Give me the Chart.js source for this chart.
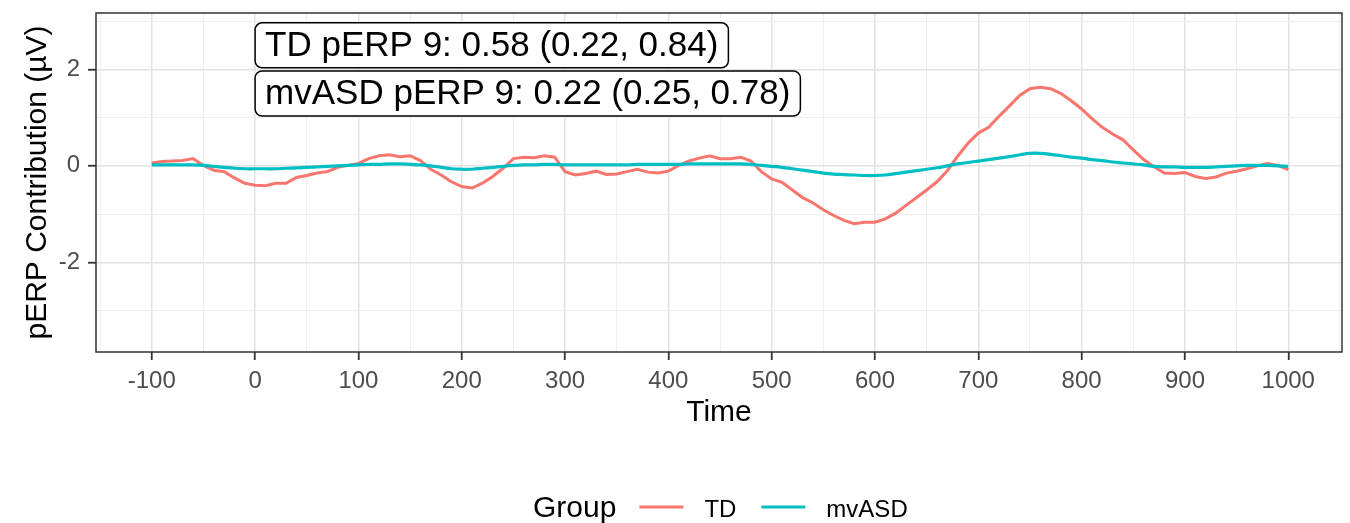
<!DOCTYPE html>
<html>
<head>
<meta charset="utf-8">
<script src="https://cdn.jsdelivr.net/npm/chart.js@4"></script>
<style>
  html, body { margin: 0; padding: 0; background: #ffffff; }
  #wrap { width: 1350px; height: 523px; }
</style>
</head>
<body>
<div id="wrap"><canvas id="c" width="1350" height="523"></canvas></div>
<script>
// ---- data ----
const times = [-100,-90,-80,-70,-60,-50,-40,-30,-20,-10,0,10,20,30,40,50,60,70,80,90,100,110,120,130,140,150,160,170,180,190,200,210,220,230,240,250,260,270,280,290,300,310,320,330,340,350,360,370,380,390,400,410,420,430,440,450,460,470,480,490,500,510,520,530,540,550,560,570,580,590,600,610,620,630,640,650,660,670,680,690,700,710,720,730,740,750,760,770,780,790,800,810,820,830,840,850,860,870,880,890,900,910,920,930,940,950,960,970,980,990,1000];
const tdValues = [0.06,0.09,0.10,0.11,0.15,0.01,-0.09,-0.12,-0.25,-0.36,-0.40,-0.41,-0.36,-0.36,-0.24,-0.20,-0.15,-0.12,-0.03,0.01,0.05,0.15,0.21,0.23,0.19,0.21,0.11,-0.07,-0.19,-0.33,-0.43,-0.46,-0.36,-0.22,-0.05,0.15,0.18,0.17,0.21,0.18,-0.12,-0.19,-0.16,-0.11,-0.18,-0.17,-0.12,-0.07,-0.13,-0.15,-0.11,0.01,0.10,0.16,0.21,0.15,0.15,0.18,0.10,-0.12,-0.27,-0.34,-0.50,-0.66,-0.77,-0.91,-1.03,-1.13,-1.20,-1.17,-1.17,-1.10,-0.98,-0.82,-0.66,-0.50,-0.33,-0.10,0.20,0.47,0.68,0.80,1.03,1.24,1.46,1.60,1.63,1.60,1.50,1.35,1.18,0.98,0.80,0.66,0.54,0.33,0.13,-0.02,-0.15,-0.16,-0.14,-0.22,-0.26,-0.23,-0.15,-0.11,-0.06,0.00,0.05,0.01,-0.08];
const mvasdValues = [0.02,0.02,0.02,0.02,0.02,0.01,-0.01,-0.03,-0.05,-0.06,-0.06,-0.06,-0.06,-0.05,-0.04,-0.03,-0.02,-0.01,0.00,0.01,0.02,0.03,0.03,0.04,0.04,0.03,0.02,0.00,-0.03,-0.06,-0.07,-0.07,-0.05,-0.03,-0.01,0.01,0.02,0.02,0.03,0.03,0.02,0.02,0.02,0.02,0.02,0.02,0.02,0.03,0.03,0.03,0.03,0.03,0.04,0.04,0.04,0.04,0.04,0.04,0.03,0.01,-0.01,-0.03,-0.06,-0.09,-0.12,-0.15,-0.17,-0.18,-0.19,-0.20,-0.20,-0.19,-0.16,-0.13,-0.10,-0.07,-0.04,0.00,0.04,0.07,0.10,0.13,0.16,0.19,0.23,0.26,0.26,0.24,0.21,0.18,0.16,0.13,0.11,0.08,0.06,0.04,0.02,-0.01,-0.02,-0.02,-0.03,-0.03,-0.03,-0.02,-0.01,0.00,0.01,0.01,0.01,0.00,-0.01];
const xTickValues = [-150,-100,-50,0,50,100,150,200,250,300,350,400,450,500,550,600,650,700,750,800,850,900,950,1000,1050];
const xTickLabels = ['', '-100', '', '0', '', '100', '', '200', '', '300', '', '400', '', '500', '', '600', '', '700', '', '800', '', '900', '', '1000', ''];
const yTickValues = [-3,-2,-1,0,1,2,3];
const yTickLabels = ['', '-2', '', '0', '', '2', ''];
const seriesNames = ['TD', 'mvASD'];
const seriesColors = ['#F8766D', '#00BFC4'];
const annotationTexts = ['TD pERP 9: 0.58 (0.22, 0.84)', 'mvASD pERP 9: 0.22 (0.25, 0.78)'];
const annotationX = [0, 0];
const annotationY = [2.5, 1.5];
const legendTitle = 'Group';

const FONT = '"Liberation Sans", Arial, Helvetica, sans-serif';

const bgPlugin = {
  id: 'bg',
  beforeDraw(chart) {
    const c = chart.ctx;
    c.save(); c.fillStyle = '#ffffff'; c.fillRect(0, 0, chart.width, chart.height); c.restore();
  },
  afterDraw(chart) {
    const c = chart.ctx;
    const a = chart.chartArea;
    const xs = chart.scales.x, ys = chart.scales.y;
    c.save();
    // panel border
    c.strokeStyle = '#333333';
    c.lineWidth = 1.5;
    c.strokeRect(a.left, a.top, a.right - a.left, a.bottom - a.top);
    // annotation labels
    c.font = '35px ' + FONT;
    c.textBaseline = 'middle';
    c.textAlign = 'left';
    for (let i = 0; i < annotationTexts.length; i++) {
      const px = xs.getPixelForValue(annotationX[i]);
      const py = ys.getPixelForValue(annotationY[i]);
      const w = c.measureText(annotationTexts[i]).width + 20;
      const h = 45;
      const x0 = px, y0 = py - h / 2, r = 7;
      c.beginPath();
      c.moveTo(x0 + r, y0);
      c.lineTo(x0 + w - r, y0);
      c.arcTo(x0 + w, y0, x0 + w, y0 + r, r);
      c.lineTo(x0 + w, y0 + h - r);
      c.arcTo(x0 + w, y0 + h, x0 + w - r, y0 + h, r);
      c.lineTo(x0 + r, y0 + h);
      c.arcTo(x0, y0 + h, x0, y0 + h - r, r);
      c.lineTo(x0, y0 + r);
      c.arcTo(x0, y0, x0 + r, y0, r);
      c.closePath();
      c.fillStyle = '#ffffff';
      c.fill();
      c.strokeStyle = '#000000';
      c.lineWidth = 1.5;
      c.stroke();
      c.fillStyle = '#000000';
      c.fillText(annotationTexts[i], x0 + 10, py + 1);
    }
    // legend
    c.textBaseline = 'alphabetic';
    c.fillStyle = '#000000';
    c.font = '30px ' + FONT;
    let lx = 533;
    const ly = 517;
    c.fillText(legendTitle, lx, ly);
    lx += c.measureText(legendTitle).width + 23;
    c.font = '24px ' + FONT;
    for (let i = 0; i < seriesNames.length; i++) {
      c.strokeStyle = seriesColors[i];
      c.lineWidth = 2.8;
      c.beginPath();
      c.moveTo(lx, 507);
      c.lineTo(lx + 44, 507);
      c.stroke();
      lx += 65;
      c.fillStyle = '#000000';
      c.fillText(seriesNames[i], lx, ly);
      lx += c.measureText(seriesNames[i]).width + 25;
    }
    c.restore();
  }
};

const chart = new Chart(document.getElementById('c'), {
  type: 'line',
  data: {
    datasets: [
      {
        label: seriesNames[0],
        data: times.map((t, i) => ({ x: t, y: tdValues[i] })),
        borderColor: seriesColors[0],
        borderWidth: 3,
        pointRadius: 0,
        tension: 0,
        order: 2
      },
      {
        label: seriesNames[1],
        data: times.map((t, i) => ({ x: t, y: mvasdValues[i] })),
        borderColor: seriesColors[1],
        borderWidth: 3.2,
        pointRadius: 0,
        tension: 0.4,
        order: 1
      }
    ]
  },
  options: {
    responsive: false,
    animation: false,
    events: [],
    layout: { padding: { left: 0, right: 8, top: 13, bottom: 0 } },
    plugins: { legend: { display: false }, tooltip: { enabled: false } },
    scales: {
      x: {
        type: 'linear',
        min: -154,
        max: 1052,
        border: { display: false },
        afterBuildTicks(s) { s.ticks = xTickValues.map(v => ({ value: v })); },
        afterFit(s) { s.height = 171; s.paddingLeft = 0; s.paddingRight = 0; s.paddingTop = 0; s.paddingBottom = 0; },
        grid: {
          color: (ctx) => (ctx.tick && ctx.tick.value % 100 === 0) ? '#E2E2E2' : '#EFEFEF',
          lineWidth: (ctx) => (ctx.tick && ctx.tick.value % 100 === 0) ? 1.5 : 1,
          drawTicks: true,
          tickLength: 8,
          tickColor: (ctx) => (ctx.tick && ctx.tick.value % 100 === 0 && ctx.tick.value >= -100 && ctx.tick.value <= 1000) ? '#333333' : 'rgba(0,0,0,0)',
          tickWidth: 1.8
        },
        ticks: {
          autoSkip: false,
          maxRotation: 0,
          padding: 7,
          color: '#4D4D4D',
          font: { family: FONT, size: 24 },
          callback: (v) => { const i = xTickValues.indexOf(v); return i >= 0 ? xTickLabels[i] : ''; }
        },
        title: {
          display: true,
          text: 'Time',
          color: '#000000',
          font: { family: FONT, size: 30 },
          padding: { top: 0, bottom: 92 }
        }
      },
      y: {
        type: 'linear',
        min: -3.86,
        max: 3.17,
        border: { display: false },
        afterBuildTicks(s) { s.ticks = yTickValues.map(v => ({ value: v })); },
        afterFit(s) { s.width = 96; s.paddingLeft = 0; s.paddingRight = 0; s.paddingTop = 0; s.paddingBottom = 0; },
        grid: {
          color: (ctx) => (ctx.tick && ctx.tick.value % 2 === 0) ? '#E2E2E2' : '#EFEFEF',
          lineWidth: (ctx) => (ctx.tick && ctx.tick.value % 2 === 0) ? 1.5 : 1,
          drawTicks: true,
          tickLength: 8,
          tickColor: (ctx) => (ctx.tick && ctx.tick.value % 2 === 0) ? '#333333' : 'rgba(0,0,0,0)',
          tickWidth: 1.8
        },
        ticks: {
          autoSkip: false,
          padding: 8,
          color: '#4D4D4D',
          font: { family: FONT, size: 24 },
          callback: (v) => { const i = yTickValues.indexOf(v); return i >= 0 ? yTickLabels[i] : ''; }
        },
        title: {
          display: true,
          text: 'pERP Contribution (\u00B5V)',
          color: '#000000',
          font: { family: FONT, size: 30 },
          padding: { top: 20, bottom: 0 }
        }
      }
    }
  },
  plugins: [bgPlugin]
});
</script>
</body>
</html>
